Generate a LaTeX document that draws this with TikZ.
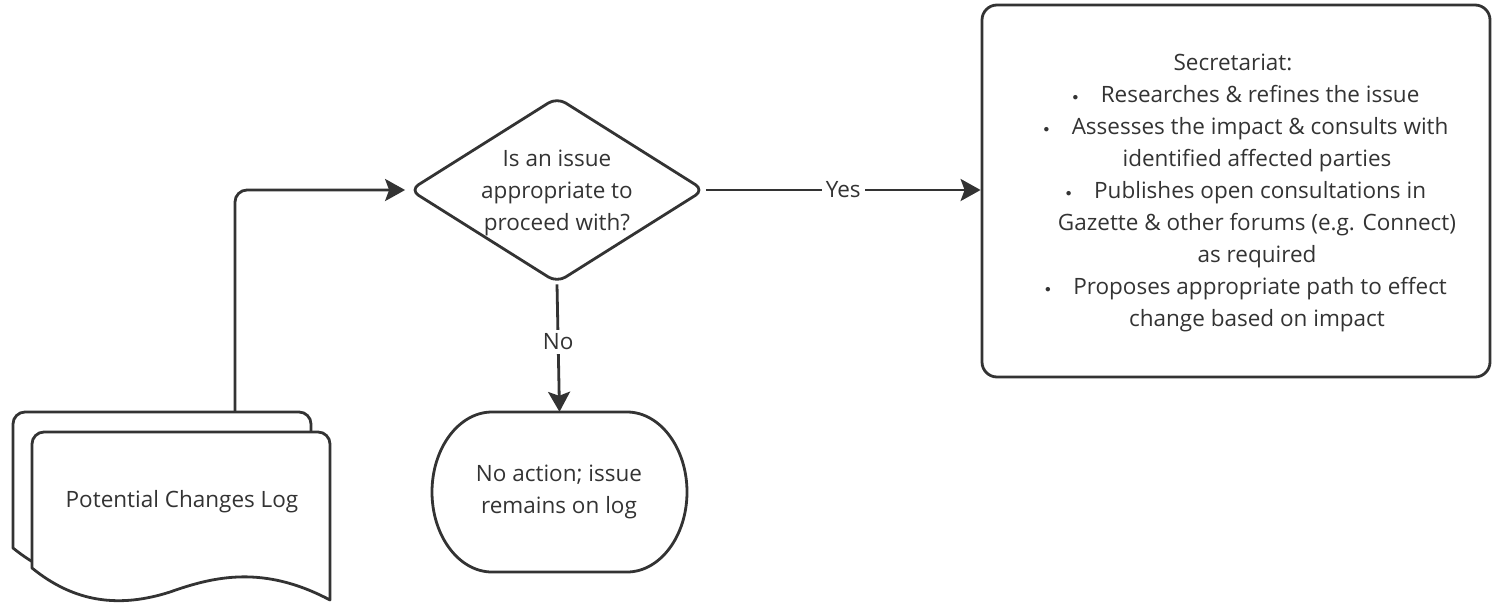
\documentclass[tikz,border=0pt]{standalone}
\usepackage{fontspec}
\setmainfont{Open Sans}
\usetikzlibrary{shapes.geometric,arrows.meta}
\definecolor{ink}{HTML}{333333}
\newcommand{\bdot}{\raisebox{0.15ex}{\scalebox{0.55}{$\bullet$}}}
\begin{document}
\begin{tikzpicture}[x=1pt,y=-1pt,
  shapeline/.style={draw=ink,line width=2.8pt,line join=round},
  conn/.style={draw=ink,line width=2.8pt,-{Stealth[length=20pt,width=22pt,inset=4pt]}},
  lbl/.style={font=\fontsize{22.5}{32}\selectfont,text=ink,align=center},
  edgelbl/.style={lbl,fill=white,inner sep=4pt}]
\useasboundingbox (0,0) rectangle (1493,603);
% document stack (back sheet)
\path[shapeline,fill=white] (13,548) [rounded corners=12pt] -- (13,412) -- (311,412) [sharp corners] -- (311,580)
  .. controls (245,545) and (196,556) .. (151,572) .. controls (101,588) and (56,583) .. (13,548) -- cycle;
% front sheet
\path[shapeline,fill=white] (32,568) [rounded corners=12pt] -- (32,432) -- (330,432) [sharp corners] -- (330,600)
  .. controls (264,565) and (215,576) .. (170,592) .. controls (120,608) and (75,603) .. (32,568) -- cycle;
\node[lbl] (doc) at (182,502) {Potential Changes Log};
\coordinate (doctop) at (235,412);
% decision
\node[shapeline,diamond,aspect=1.586,minimum width=295pt,minimum height=186pt,inner sep=0pt,rounded corners=10pt] (dec) at (557,190) {};
\node[lbl] (dectext) at (557,193) {Is an issue\\appropriate to\\proceed with?};
% terminal
\node[minimum width=255pt,minimum height=160pt,inner sep=0pt] (term) at (559.5,492) {};
\path[shapeline] (492,412) -- (627,412) .. controls (660,412) and (687,448) .. (687,492)
  .. controls (687,536) and (660,572) .. (627,572) -- (492,572)
  .. controls (459,572) and (432,536) .. (432,492) .. controls (432,448) and (459,412) .. (492,412) -- cycle;
\node[lbl] (termtext) at (559,492) {No action; issue\\remains on log};
% secretariat box
\node[shapeline,rounded corners=15pt,minimum width=508pt,minimum height=372pt] (box) at (1236,191) {};
\node[lbl,align=center] (boxtext) at (1246,193) {%
Secretariat:\hspace*{26pt}\\
\bdot\quad Researches \& refines the issue\\
\bdot\quad Assesses the impact \& consults with\\
\hspace*{22pt}identified affected parties\\
\bdot\quad Publishes open consultations in\\
\hspace*{22pt}Gazette \& other forums (e.g. Connect)\\
\hspace*{22pt}as required\\
\bdot\quad Proposes appropriate path to effect\\
\hspace*{22pt}change based on impact};
% connectors
\draw[conn,rounded corners=12pt] (doctop) |- ([xshift=-3pt]dec.west);
\draw[conn] (dec.east) -- node[edgelbl] (yes) {Yes} (dec.east -| box.west);
\draw[conn] (dec.south) -- node[edgelbl,pos=0.45] (no) {No} (term.north);
\end{tikzpicture}
\end{document}
